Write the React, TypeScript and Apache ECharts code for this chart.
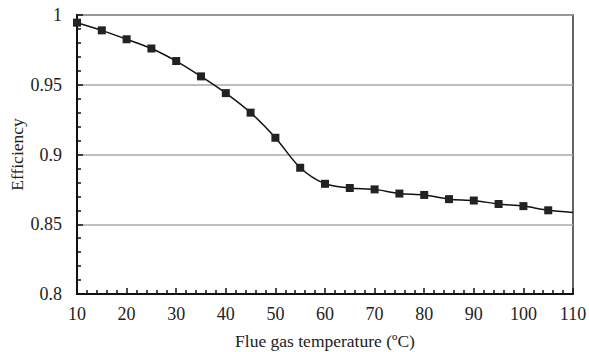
import React, { useEffect, useRef } from "react";
import * as echarts from "echarts";

const temperatures = [10, 15, 20, 25, 30, 35, 40, 45, 50, 55, 60, 65, 70, 75, 80, 85, 90, 95, 100, 105, 110];
const efficiency = [0.9945, 0.989, 0.9826, 0.976, 0.967, 0.956, 0.944, 0.930, 0.912, 0.8905, 0.879, 0.876, 0.875, 0.872, 0.871, 0.868, 0.867, 0.8645, 0.863, 0.860, 0.8585];
const markedUntil = 105;

export default function App() {
  const ref = useRef<HTMLDivElement>(null);
  useEffect(() => {
    const chart = echarts.init(ref.current!, null, { renderer: "svg" });
    const font = "Liberation Serif";
    const data = temperatures.map((t, i) =>
      t > markedUntil ? { value: [t, efficiency[i]], symbol: "none" } : { value: [t, efficiency[i]] }
    );
    chart.setOption({
      animation: false,
      textStyle: { fontFamily: font },
      grid: {
        left: 77,
        right: 16,
        top: 15,
        bottom: 58,
        containLabel: false,
        outerBoundsMode: "none",
        show: true,
        borderColor: "#333",
        borderWidth: 1.5,
        backgroundColor: "#fff",
      },
      xAxis: {
        type: "value",
        min: 10,
        max: 110,
        interval: 10,
        name: "Flue gas temperature (ºC)",
        nameLocation: "middle",
        nameGap: 38,
        nameMoveOverlap: false,
        nameTextStyle: { fontFamily: font, fontSize: 17.5, color: "#222" },
        axisLine: { show: true, lineStyle: { color: "#111", width: 2 } },
        axisTick: { show: true, inside: true, length: 6, lineStyle: { color: "#111", width: 1.5 } },
        minorTick: { show: true, splitNumber: 5, length: 4, lineStyle: { color: "#111", width: 1.5 } },
        axisLabel: { fontFamily: font, fontSize: 18, color: "#222", margin: 11 },
        splitLine: { show: false },
      },
      yAxis: {
        type: "value",
        min: 0.8,
        max: 1,
        interval: 0.05,
        name: "Efficiency",
        nameLocation: "middle",
        nameGap: 51,
        nameMoveOverlap: false,
        nameTextStyle: { fontFamily: font, fontSize: 17.5, color: "#222" },
        axisLine: { show: true, lineStyle: { color: "#111", width: 2 } },
        axisTick: { show: true, inside: true, length: 6, lineStyle: { color: "#111", width: 1.5 } },
        minorTick: { show: true, splitNumber: 5, length: 4, lineStyle: { color: "#111", width: 1.5 } },
        axisLabel: { fontFamily: font, fontSize: 18, color: "#222", margin: 15 },
        splitLine: { show: true, lineStyle: { color: "#aaa", width: 1.5 } },
      },
      series: [
        {
          type: "line",
          data,
          smooth: 0.3,
          symbol: "rect",
          symbolSize: 8,
          lineStyle: { color: "#111", width: 1.5 },
          itemStyle: { color: "#222" },
        },
      ],
    });
    return () => chart.dispose();
  }, []);
  return <div ref={ref} style={{ width: 589, height: 352, position: "absolute", left: 0, top: 0 }} />;
}
